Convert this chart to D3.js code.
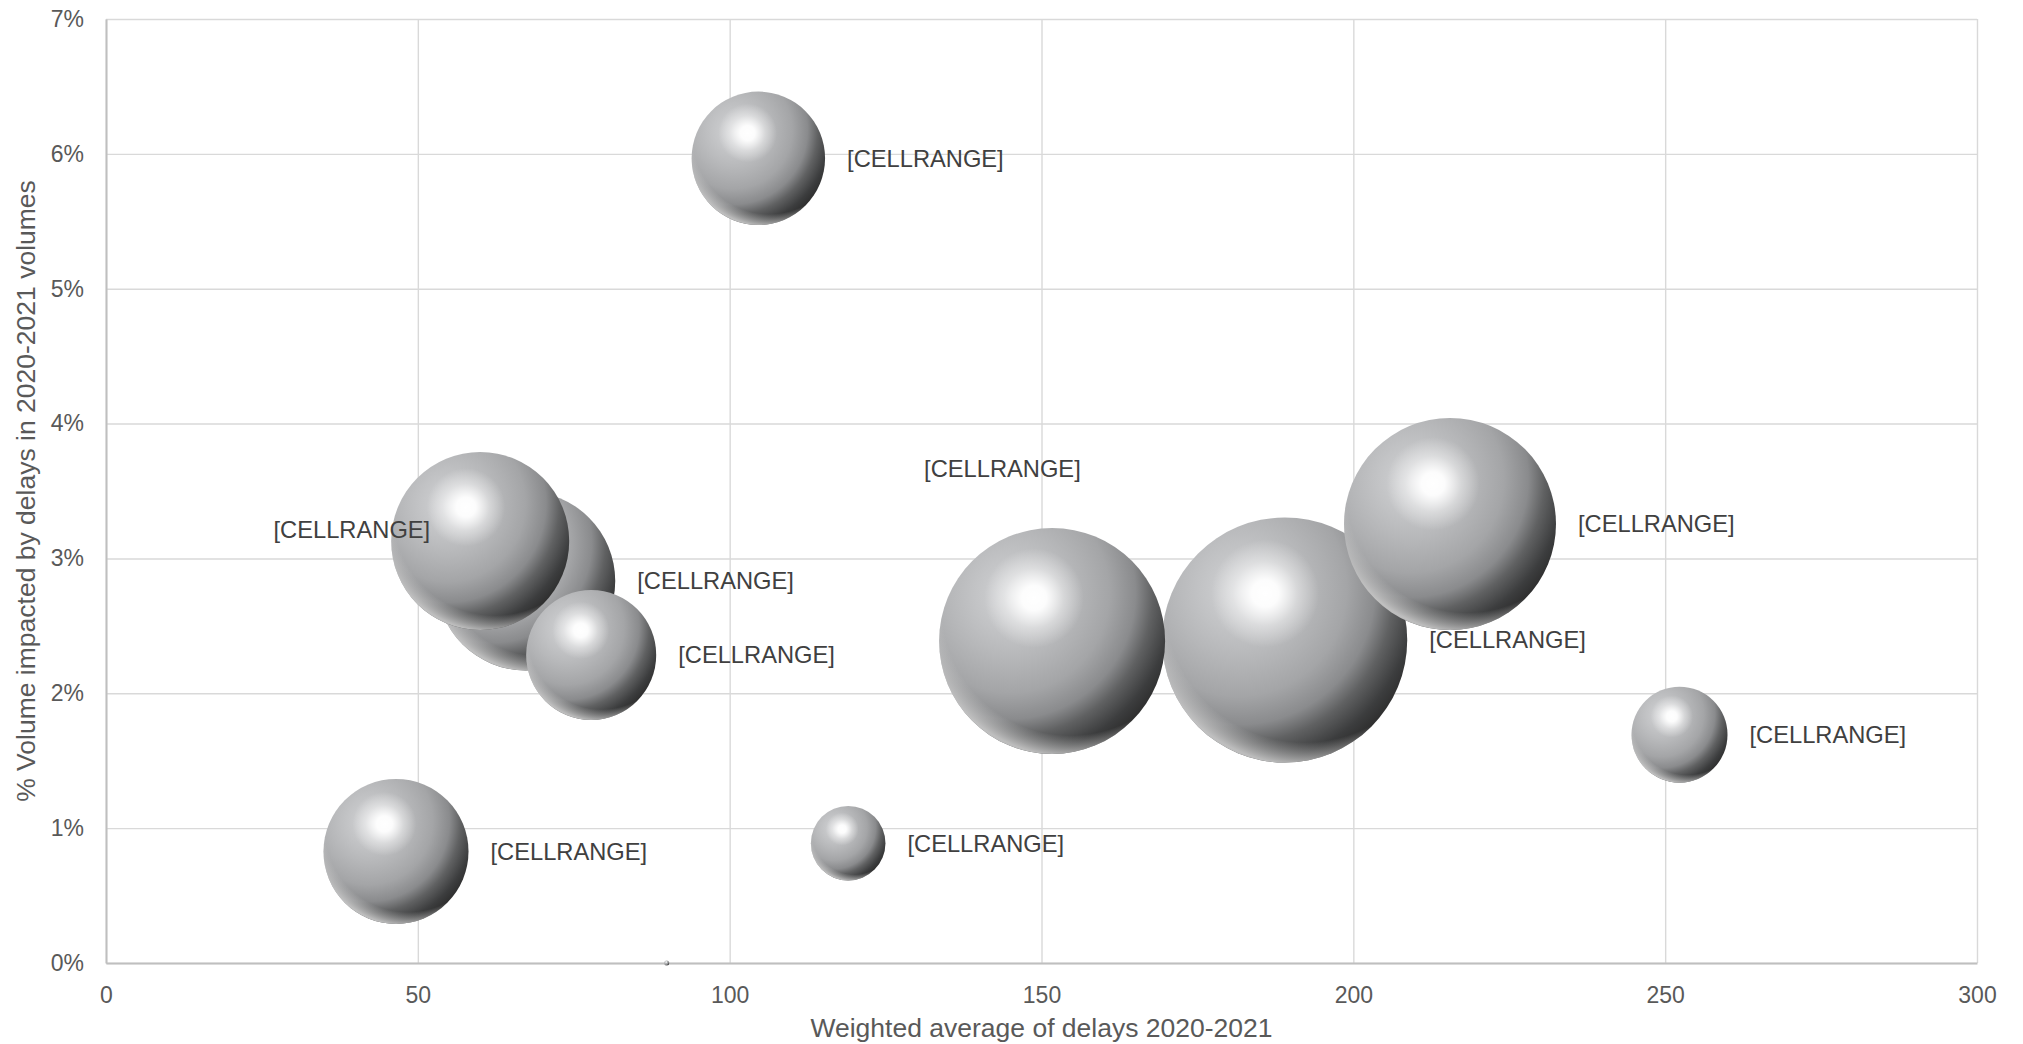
<!DOCTYPE html>
<html><head><meta charset="utf-8">
<script src="https://cdn.jsdelivr.net/npm/d3@7"></script>
<style>html,body{margin:0;padding:0;background:#fff;} svg{display:block;}</style>
</head><body>
<svg id="chart" width="2023" height="1044"></svg>
<script>
// ---- data ----
const delays     = [104.6, 60.0, 67.3, 77.8, 151.7, 189.0, 215.5, 252.3, 46.5, 119.0, 89.9];
const volumePct  = [5.967, 3.129, 2.833, 2.284, 2.388, 2.395, 3.255, 1.693, 0.827, 0.888, 0.0];
const bubbleSize = [29.65, 52.78, 53.38, 28.15, 85.09, 100, 74.87, 15.35, 35.03, 9.27, 0.04];
const labels     = ["[CELLRANGE]","[CELLRANGE]","[CELLRANGE]","[CELLRANGE]","[CELLRANGE]",
                    "[CELLRANGE]","[CELLRANGE]","[CELLRANGE]","[CELLRANGE]","[CELLRANGE]",""];
const xTicks = [0, 50, 100, 150, 200, 250, 300];
const yTicks = [0, 1, 2, 3, 4, 5, 6, 7];
const xTitle = "Weighted average of delays 2020-2021";
const yTitle = "% Volume impacted by delays in 2020-2021 volumes";

// ---- layout / style ----
const W = 2023, H = 1044;
const plot = {left: 106, right: 1977, top: 19, bottom: 963};
const FONT = "'Liberation Sans', Arial, sans-serif";
// manually moved labels (offsets relative to bubble center)
const labelOverride = {1: {dx: -50, dy: -11, anchor: "end"}, 4: {dx: -128, dy: -172, anchor: "start"}};

const svg = d3.select("#chart");
const x = d3.scaleLinear().domain([0, 300]).range([plot.left, plot.right]);
const y = d3.scaleLinear().domain([0, 7]).range([plot.bottom, plot.top]);
const r = d3.scaleSqrt().domain([0, 100]).range([0, 122.5]);

// gradients
const defs = svg.append("defs");
const base = defs.append("radialGradient").attr("id", "gBase")
  .attr("cx", 0.3).attr("cy", 0.28).attr("r", 0.8).attr("fx", 0.33).attr("fy", 0.3);
[[0,"#d4d5d7"],[0.35,"#b6b7b9"],[0.55,"#a4a5a7"],[0.7,"#8a8b8d"],[0.8,"#606162"],[0.92,"#3c3d3e"],[1,"#2e2e2e"]]
  .forEach(([o,c]) => base.append("stop").attr("offset", o).attr("stop-color", c));
const refl = defs.append("radialGradient").attr("id", "gRefl")
  .attr("cx", 0.58).attr("cy", 0.35).attr("r", 0.66);
[[0,"#c6c6c6",0],[0.86,"#c6c6c6",0],[1,"#c8c8c8",0.9]]
  .forEach(([o,c,a]) => refl.append("stop").attr("offset", o).attr("stop-color", c).attr("stop-opacity", a));
const hl = defs.append("radialGradient").attr("id", "gHl")
  .attr("cx", 0.42).attr("cy", 0.31).attr("r", 0.22);
[[0,1],[0.25,0.95],[0.6,0.4],[1,0]]
  .forEach(([o,a]) => hl.append("stop").attr("offset", o).attr("stop-color", "#ffffff").attr("stop-opacity", a));

// gridlines
const grid = svg.append("g");
grid.append("g").attr("transform", `translate(0,${plot.bottom})`)
  .call(d3.axisBottom(x).tickValues(xTicks).tickSize(-(plot.bottom - plot.top)).tickFormat(""))
  .call(g => { g.select(".domain").remove(); g.selectAll("line").attr("stroke", "#d9d9d9").attr("stroke-width", 1.4); });
grid.append("g").attr("transform", `translate(${plot.left},0)`)
  .call(d3.axisLeft(y).tickValues(yTicks).tickSize(-(plot.right - plot.left)).tickFormat(""))
  .call(g => { g.select(".domain").remove(); g.selectAll("line").attr("stroke", "#d9d9d9").attr("stroke-width", 1.4); });

// axes lines + labels
const xAxis = svg.append("g").attr("transform", `translate(0,${plot.bottom})`)
  .call(d3.axisBottom(x).tickValues(xTicks).tickSize(0).tickPadding(24).tickFormat(d3.format("d")));
xAxis.select(".domain").attr("stroke", "#bfbfbf").attr("stroke-width", 2);
xAxis.selectAll("text").attr("font-family", FONT).attr("font-size", 23).attr("fill", "#595959");

const yAxis = svg.append("g").attr("transform", `translate(${plot.left},0)`)
  .call(d3.axisLeft(y).tickValues(yTicks).tickSize(0).tickPadding(22).tickFormat(d => d + "%"));
yAxis.select(".domain").attr("stroke", "#bfbfbf").attr("stroke-width", 2);
yAxis.selectAll("text").attr("font-family", FONT).attr("font-size", 23).attr("fill", "#595959");

// bubbles
const data = delays.map((d, i) => ({i, x: delays[i], y: volumePct[i], s: bubbleSize[i], label: labels[i]}));
const order = data.slice().sort((a, b) => b.s - a.s);
const bub = svg.append("g");
const bg = bub.selectAll("g.b").data(order).join("g").attr("class", "b")
  .attr("transform", d => `translate(${x(d.x)},${y(d.y)})`);
bg.append("circle").attr("r", d => Math.max(r(d.s), 2.5)).attr("fill", "url(#gBase)");
bg.append("circle").attr("r", d => Math.max(r(d.s), 2.5)).attr("fill", "url(#gRefl)");
bg.append("circle").attr("r", d => Math.max(r(d.s), 2.5)).attr("fill", "url(#gHl)");

// data labels
svg.append("g").selectAll("text").data(data.filter(d => d.label)).join("text")
  .attr("x", d => x(d.x) + (labelOverride[d.i] ? labelOverride[d.i].dx : r(d.s) + 22))
  .attr("y", d => y(d.y) + (labelOverride[d.i] ? labelOverride[d.i].dy : 0))
  .attr("dy", "0.35em")
  .attr("text-anchor", d => labelOverride[d.i] ? labelOverride[d.i].anchor : "start")
  .attr("font-family", FONT).attr("font-size", 23.7).attr("fill", "#404040")
  .text(d => d.label);

// axis titles
svg.append("text").attr("x", (plot.left + plot.right) / 2).attr("y", 1028).attr("dy", "0.35em")
  .attr("text-anchor", "middle").attr("font-family", FONT).attr("font-size", 26.5).attr("fill", "#595959")
  .text(xTitle);
svg.append("text").attr("transform", `translate(26,${(plot.top + plot.bottom) / 2}) rotate(-90)`)
  .attr("dy", "0.35em").attr("text-anchor", "middle").attr("font-family", FONT).attr("font-size", 26.5)
  .attr("fill", "#595959").text(yTitle);
</script>
</body></html>
